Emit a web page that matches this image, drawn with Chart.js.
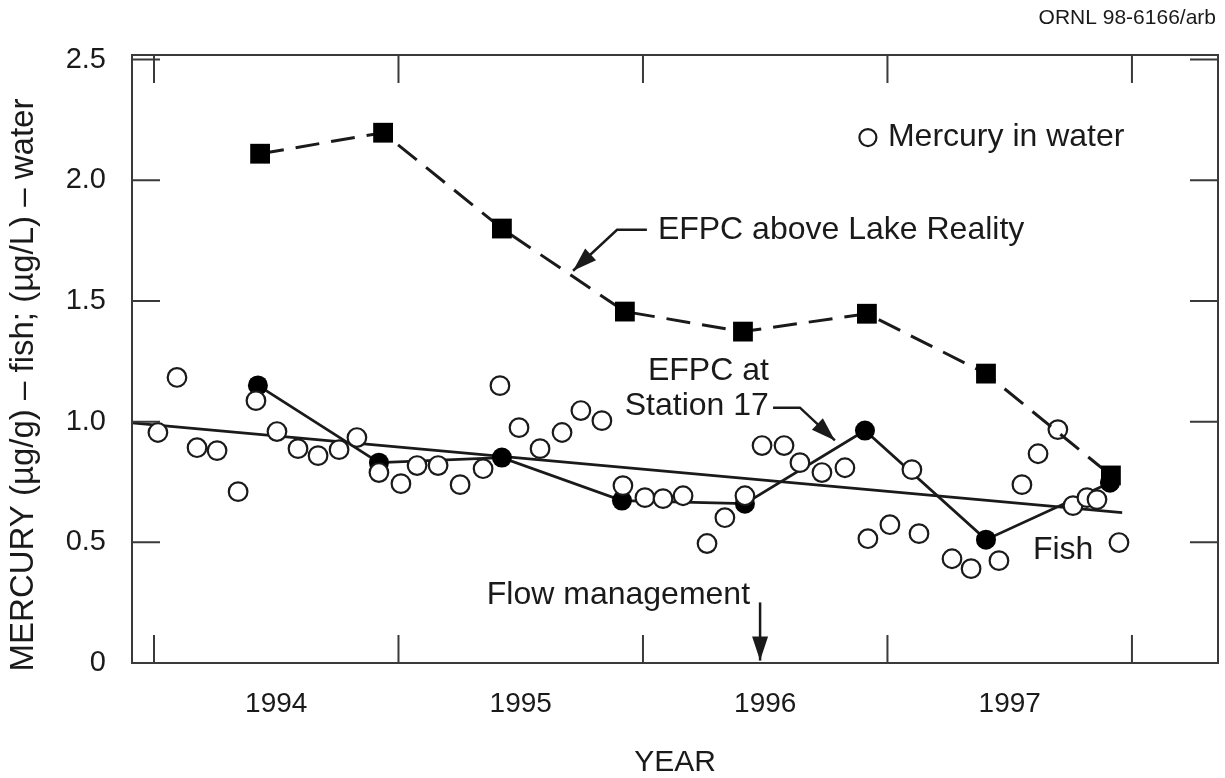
<!DOCTYPE html>
<html>
<head>
<meta charset="utf-8">
<script src="https://cdn.jsdelivr.net/npm/chart.js@4/dist/chart.umd.min.js"></script>
<style>
  html, body { margin: 0; padding: 0; background: #fff; }
  #wrap { width: 1225px; height: 778px; }
</style>
</head>
<body>
<div id="wrap"><canvas id="hgChart" width="1225" height="778"></canvas></div>
<script>
// values (decimal year, concentration)
const waterX = [1994.016, 1994.094, 1994.176, 1994.258, 1994.344, 1994.417, 1994.503, 1994.589, 1994.671, 1994.757,
                1994.830, 1994.920, 1995.010, 1995.076, 1995.162, 1995.252, 1995.346, 1995.415, 1995.493, 1995.579,
                1995.669, 1995.746, 1995.832, 1995.918, 1996.008, 1996.082, 1996.164, 1996.262, 1996.335, 1996.417,
                1996.487, 1996.577, 1996.642, 1996.732, 1996.826, 1996.920, 1997.010, 1997.100, 1997.129, 1997.264,
                1997.342, 1997.456, 1997.550, 1997.616, 1997.697, 1997.759, 1997.816, 1997.857, 1997.947];
const waterY = [0.955, 1.183, 0.892, 0.880, 0.710, 1.087, 0.959, 0.888, 0.859, 0.884,
                0.934, 0.789, 0.743, 0.818, 0.818, 0.739, 0.805, 1.149, 0.975, 0.888,
                0.955, 1.046, 1.004, 0.735, 0.685, 0.681, 0.693, 0.495, 0.602, 0.693,
                0.901, 0.901, 0.830, 0.789, 0.809, 0.515, 0.573, 0.801, 0.536, 0.432,
                0.391, 0.424, 0.739, 0.867, 0.967, 0.652, 0.685, 0.677, 0.499];

const lakeX = [1994.434, 1994.937, 1995.423, 1995.926, 1996.409, 1996.916, 1997.403, 1997.914];
const lakeY = [2.110, 2.197, 1.800, 1.456, 1.373, 1.447, 1.199, 0.777];

const fishX = [1994.425, 1994.920, 1995.423, 1995.914, 1996.417, 1996.908, 1997.403, 1997.910];
const fishY = [1.150, 0.830, 0.851, 0.673, 0.660, 0.963, 0.511, 0.747];

const trendX = [1993.91, 1997.96];
const trendY = [0.995, 0.623];

const yearTicks = [1994.5, 1995.5, 1996.5, 1997.5];
const yearLabels = ['1994', '1995', '1996', '1997'];
const yearBounds = [1994, 1995, 1996, 1997, 1998];
const yTicks = [0, 0.5, 1.0, 1.5, 2.0, 2.5];

const FONT = '"Liberation Sans", Arial, Helvetica, sans-serif';
const INK = '#1a1a1a';

function pts(xs, ys) { return xs.map((x, i) => ({ x: x, y: ys[i] })); }

// frame, inward ticks, labels and arrows
const decorations = {
  id: 'decorations',
  afterDraw(chart) {
    const ctx = chart.ctx;
    const a = chart.chartArea;
    const xs = chart.scales.x, ys = chart.scales.y;
    const px = v => xs.getPixelForValue(v), py = v => ys.getPixelForValue(v);
    ctx.save();
    ctx.strokeStyle = '#3a3a3a';
    ctx.lineWidth = 2;
    ctx.strokeRect(a.left, a.top, a.right - a.left, a.bottom - a.top);
    const tl = 28;
    ctx.beginPath();
    yearBounds.forEach(v => {
      const x = px(v);
      ctx.moveTo(x, a.bottom); ctx.lineTo(x, a.bottom - tl);
      ctx.moveTo(x, a.top); ctx.lineTo(x, a.top + tl);
    });
    yTicks.forEach(v => {
      if (v === 0) return;
      const y = py(v);
      ctx.moveTo(a.left, y); ctx.lineTo(a.left + tl, y);
      ctx.moveTo(a.right, y); ctx.lineTo(a.right - tl, y);
    });
    ctx.stroke();

    ctx.fillStyle = INK;
    ctx.strokeStyle = INK;
    ctx.textBaseline = 'middle';
    ctx.font = '32px ' + FONT;
    ctx.textAlign = 'left';
    ctx.fillText('EFPC above Lake Reality', px(1996.061), py(1.795));
    ctx.fillText('Mercury in water', px(1997.002), py(2.177));
    ctx.fillText('Fish', px(1997.595), py(0.466));
    ctx.textAlign = 'right';
    ctx.fillText('EFPC at', px(1996.515), py(1.211));
    ctx.fillText('Station 17', px(1996.515), py(1.066));
    ctx.fillText('Flow management', px(1996.438), py(0.28));

    // legend symbol
    ctx.lineWidth = 2.2;
    ctx.beginPath();
    ctx.arc(px(1996.92), py(2.177), 8.5, 0, Math.PI * 2);
    ctx.stroke();

    ctx.lineWidth = 2.5;
    function arrow(path) {
      ctx.beginPath();
      ctx.moveTo(path[0][0], path[0][1]);
      for (let i = 1; i < path.length; i++) ctx.lineTo(path[i][0], path[i][1]);
      ctx.stroke();
      const [x0, y0] = path[path.length - 2], [x1, y1] = path[path.length - 1];
      const ang = Math.atan2(y1 - y0, x1 - x0), len = 24, w = 8;
      ctx.beginPath();
      ctx.moveTo(x1, y1);
      ctx.lineTo(x1 - len * Math.cos(ang) + w * Math.sin(ang), y1 - len * Math.sin(ang) - w * Math.cos(ang));
      ctx.lineTo(x1 - len * Math.cos(ang) - w * Math.sin(ang), y1 - len * Math.sin(ang) + w * Math.cos(ang));
      ctx.closePath();
      ctx.fill();
    }
    arrow([[px(1996.016), py(1.795)], [px(1995.894), py(1.795)], [px(1995.714), py(1.625)]]);
    arrow([[px(1996.532), py(1.058)], [px(1996.642), py(1.058)], [px(1996.785), py(0.922)]]);
    arrow([[px(1996.479), py(0.251)], [px(1996.479), py(0.01)]]);

    // y axis title
    ctx.save();
    ctx.translate(24, 385);
    ctx.rotate(-Math.PI / 2);
    ctx.textAlign = 'center';
    ctx.font = '33px ' + FONT;
    ctx.fillText('MERCURY (µg/g) – fish; (µg/L) – water', 0, 0);
    ctx.restore();

    ctx.font = '21px ' + FONT;
    ctx.textAlign = 'right';
    ctx.fillText('ORNL 98-6166/arb', chart.width - 9, 18);
    ctx.restore();
  }
};

const ctx = document.getElementById('hgChart').getContext('2d');
const chart = new Chart(ctx, {
  type: 'scatter',
  data: {
    datasets: [
      {
        label: 'EFPC above Lake Reality',
        data: pts(lakeX, lakeY),
        showLine: true,
        borderColor: INK,
        borderWidth: 3,
        borderDash: [24, 12],
        pointStyle: 'rect',
        pointRadius: 14,
        pointBackgroundColor: '#000',
        pointBorderWidth: 0,
        order: 0
      },
      {
        label: 'Mercury in water',
        data: pts(waterX, waterY),
        showLine: false,
        pointRadius: 9.3,
        pointBackgroundColor: '#fff',
        pointBorderColor: INK,
        pointBorderWidth: 2.2,
        order: 1
      },
      {
        label: 'Fish',
        data: pts(fishX, fishY),
        showLine: true,
        borderColor: INK,
        borderWidth: 2.8,
        pointRadius: 10,
        pointBackgroundColor: '#000',
        pointBorderWidth: 0,
        order: 2
      },
      {
        label: 'Trend',
        data: pts(trendX, trendY),
        showLine: true,
        borderColor: INK,
        borderWidth: 2.8,
        pointRadius: 0,
        order: 3
      }
    ]
  },
  options: {
    responsive: false,
    animation: false,
    events: [],
    layout: { autoPadding: false, padding: { top: 55, right: 7, left: 0, bottom: 0 } },
    plugins: { legend: { display: false }, tooltip: { enabled: false } },
    scales: {
      x: {
        type: 'linear',
        min: 1993.91,
        max: 1998.352,
        afterFit(s) { s.height = 115; s.paddingLeft = 0; s.paddingRight = 0; },
        afterBuildTicks(s) { s.ticks = yearTicks.map(v => ({ value: v })); },
        ticks: {
          callback: (v, i) => yearLabels[i],
          font: { family: FONT, size: 28 },
          color: INK,
          padding: 24,
          autoSkip: false,
          maxRotation: 0
        },
        grid: { display: false, drawTicks: false },
        border: { display: false },
        title: { display: true, text: 'YEAR', font: { family: FONT, size: 30, lineHeight: 1 }, color: INK, padding: { top: 0, bottom: 0 } }
      },
      y: {
        min: 0,
        max: 2.519,
        afterFit(s) { s.width = 132; s.paddingTop = 0; s.paddingBottom = 0; },
        afterBuildTicks(s) { s.ticks = yTicks.map(v => ({ value: v })); },
        ticks: {
          callback: v => (v === 0 ? '0' : v.toFixed(1)),
          font: { family: FONT, size: 29 },
          color: INK,
          padding: 26
        },
        grid: { display: false, drawTicks: false },
        border: { display: false }
      }
    }
  },
  plugins: [decorations]
});
</script>
</body>
</html>
